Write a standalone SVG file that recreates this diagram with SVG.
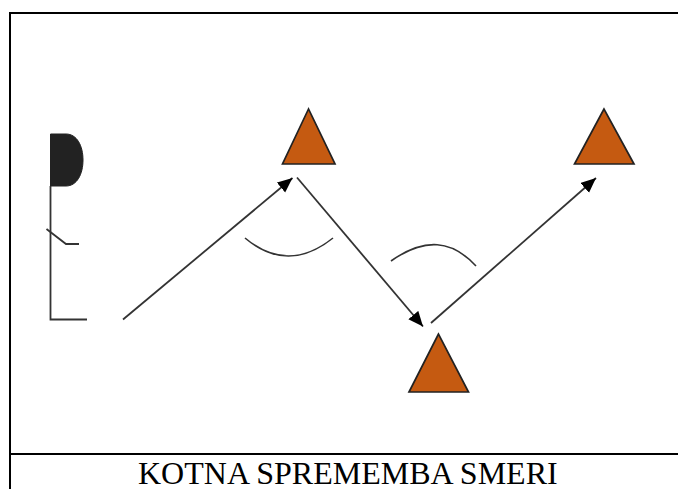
<svg xmlns="http://www.w3.org/2000/svg" width="678" height="489" viewBox="0 0 678 489">
<style>
.tri{fill:#c55a11;stroke:#222;stroke-width:1.7;stroke-linejoin:miter}
.ln{fill:none;stroke:#333;stroke-width:1.8}
.arc{fill:none;stroke:#333;stroke-width:1.6}
.frame{fill:none;stroke:#000;stroke-width:2}
text{font-family:"Liberation Serif","Times New Roman",serif;font-size:32px;fill:#000}
</style>
<defs>
<marker id="ah" markerUnits="userSpaceOnUse" markerWidth="16" markerHeight="14" refX="15" refY="6.5" orient="auto"><path d="M0 0L15 6.500L0 13Z" fill="#000"/></marker>
</defs>
<rect width="678" height="489" fill="#fff"/>
<g id="frame"><path class="frame" d="M678 13H10V489M10 454H678"/></g>
<g id="figure">
<path d="M50.500 134H66C77 134 83 146 83 160C83 174 77 186 66 186H50.500Z" fill="#222" stroke="#222"/>
<path class="ln" d="M50.500 186V319.500H87"/>
<path class="ln" d="M46.500 229L66 244H79"/>
</g>
<g id="triangle-1"><polygon class="tri" points="308.500,109 282.500,164 335,164"/></g>
<g id="triangle-2"><polygon class="tri" points="438.500,334 409,392 468.500,392"/></g>
<g id="triangle-3"><polygon class="tri" points="604,109 574.500,164 634,164"/></g>
<g id="connectors">
<line class="ln" x1="123" y1="319.500" x2="292.500" y2="178" marker-end="url(#ah)"/>
<line class="ln" x1="297" y1="177.500" x2="423" y2="326.500" marker-end="url(#ah)"/>
<line class="ln" x1="431" y1="323" x2="596" y2="178" marker-end="url(#ah)"/>
<path class="arc" d="M245 238Q288 274 333 238"/>
<path class="arc" d="M391 261C425 237 452 240 476 266"/>
</g>
<text x="138" y="484">KOTNA SPREMEMBA SMERI</text>
</svg>
